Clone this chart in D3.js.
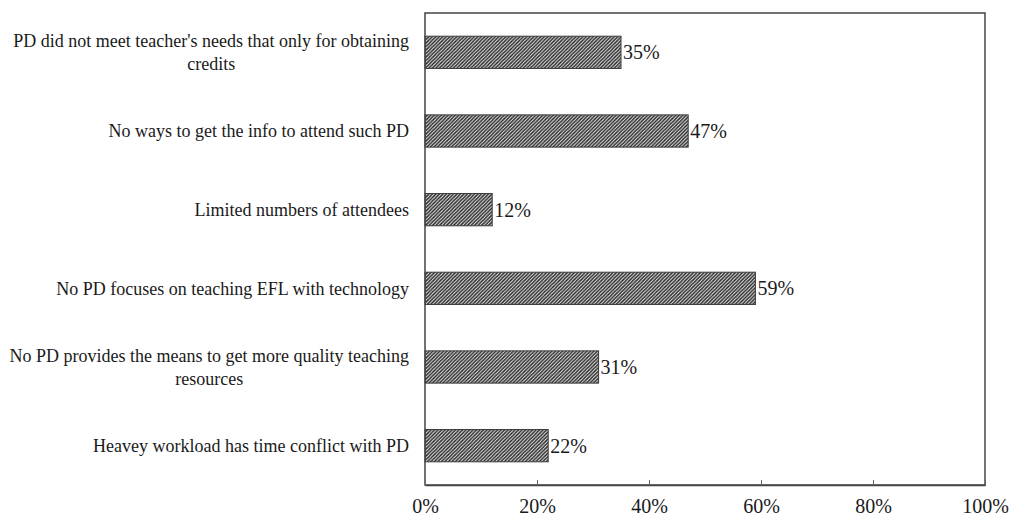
<!DOCTYPE html>
<html><head><meta charset="utf-8">
<script src="https://cdn.jsdelivr.net/npm/d3@7"></script>
<style>body{margin:0;background:#fff}svg{display:block}text{font-family:"Liberation Serif","Times New Roman",serif;fill:#1a1a1a}</style>
</head><body>
<svg id="c" width="1010" height="518"></svg>
<script>
const categories = [
  ["PD did not meet teacher's needs that only for obtaining","credits"],
  ["No ways to get the info to attend such PD"],
  ["Limited numbers of attendees"],
  ["No PD focuses on teaching EFL with technology"],
  ["No PD provides the means to get more quality teaching","resources"],
  ["Heavey workload has time conflict with PD"]
];
const values = [35, 47, 12, 59, 31, 22];
const tickValues = [0, 20, 40, 60, 80, 100];

const svg = d3.select("#c");
const m = {l:425, r:985, t:13, b:485};
const x = d3.scaleLinear().domain([0,100]).range([m.l, m.r]);
const y = d3.scaleBand().domain(d3.range(categories.length)).range([m.t, m.b]).paddingInner(0.59).paddingOuter(0.295);

const defs = svg.append("defs");
const pat = defs.append("pattern").attr("id","hatch").attr("patternUnits","userSpaceOnUse")
  .attr("width",3.5).attr("height",3.5);
pat.append("rect").attr("width",3.5).attr("height",3.5).attr("fill","#fff");
pat.append("path").attr("d","M-1,1 l2,-2 M0,3.5 l3.5,-3.5 M2.5,4.5 l2,-2").attr("stroke","#2a2a2a").attr("stroke-width",1.6);

// bars
svg.selectAll("rect.bar").data(values).join("rect").attr("class","bar")
  .attr("x", x(0)).attr("y",(d,i)=>y(i)).attr("width",d=>x(d)-x(0)).attr("height",y.bandwidth())
  .attr("fill","url(#hatch)").attr("stroke","#3a3a3a").attr("stroke-width",1);

// value labels
svg.selectAll("text.val").data(values).join("text").attr("class","val")
  .attr("x",d=>x(d)+2).attr("y",(d,i)=>y(i)+y.bandwidth()/2).attr("dy","0.35em")
  .attr("font-size",20).text(d=>d+"%");

// frame
svg.append("rect").attr("x",m.l).attr("y",m.t).attr("width",m.r-m.l).attr("height",m.b-m.t)
  .attr("fill","none").attr("stroke","#444").attr("stroke-width",1.5);

// x axis
const ax = svg.append("g").attr("transform",`translate(0,${m.b})`)
  .call(d3.axisBottom(x).tickValues(tickValues).tickFormat(d=>d+"%").tickSizeInner(-5).tickSizeOuter(0).tickPadding(14));
ax.select(".domain").attr("stroke","#444").attr("stroke-width",1.5);
ax.selectAll(".tick line").attr("stroke","#666");
ax.selectAll(".tick text").attr("font-size",20).attr("font-family","'Liberation Serif',serif").attr("fill","#1a1a1a");

// category labels
const labelRight = 409, lineH = 23, fs = 18;
categories.forEach((lines,i)=>{
  const cy = y(i)+y.bandwidth()/2;
  const g = svg.append("g");
  const ts = lines.map((t,k)=>g.append("text").attr("font-size",fs).attr("text-anchor","middle")
      .attr("y", cy + (k-(lines.length-1)/2)*lineH).attr("dy","0.35em").text(t));
  const w = d3.max(ts, t=>t.node().getComputedTextLength());
  ts.forEach(t=>t.attr("x", labelRight - w/2));
});
</script>
</body></html>
